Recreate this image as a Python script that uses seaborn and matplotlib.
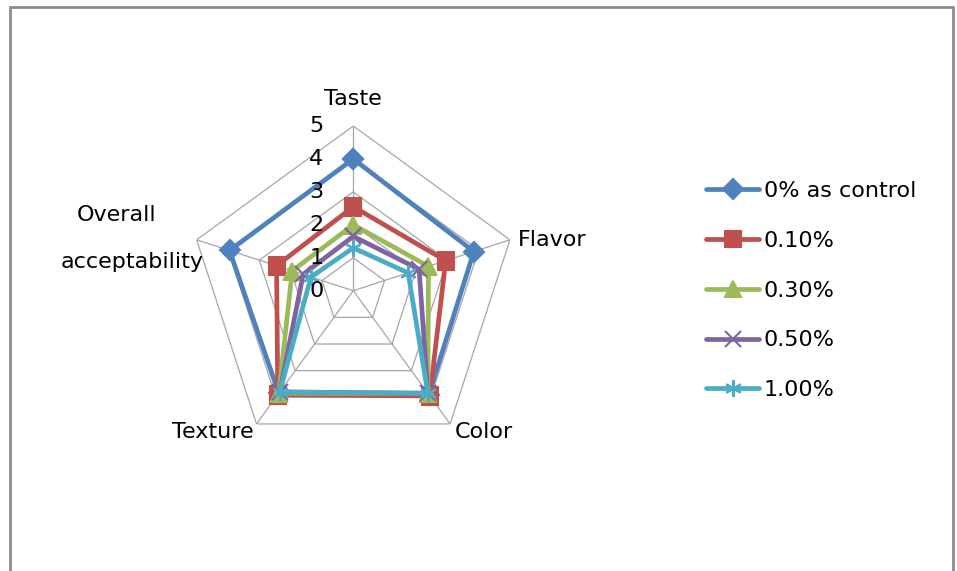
import numpy as np
import pandas as pd
import matplotlib
matplotlib.use("Agg")
import matplotlib.pyplot as plt
import seaborn as sns
from matplotlib.lines import Line2D

categories = ["Taste", "Flavor", "Color", "Texture", "Overall\nacceptability"]
series_names = ["0% as control", "0.10%", "0.30%", "0.50%", "1.00%"]
control = [4.0, 3.85, 3.9, 3.85, 3.95]
c010 = [2.55, 2.95, 3.95, 3.9, 2.45]
c030 = [2.0, 2.4, 3.85, 3.85, 1.95]
c050 = [1.65, 2.1, 3.85, 3.8, 1.6]
c100 = [1.3, 1.75, 3.85, 3.8, 1.35]
radial_ticks = [0, 1, 2, 3, 4, 5]

colors = ["#4F81BD", "#C0504D", "#9BBB59", "#8064A2", "#4BACC6"]
markers = ["D", "s", "^", "x", (6, 2, 0)]
msizes = [10, 12, 11, 11, 12]

sns.set_style("white")
plt.rcParams["font.family"] = ["DejaVu Sans"]
plt.rcParams["text.color"] = "black"
FS = 16

W, H = 957, 571
fig = plt.figure(figsize=(W / 100, H / 100), dpi=100)
cx, cy, R = 353.3, 290.7, 164.7
ax = fig.add_axes([(cx - R) / W, (H - cy - R) / H, 2 * R / W, 2 * R / H], projection="polar")
ax.set_theta_offset(np.pi / 2)
ax.set_theta_direction(-1)
ax.set_ylim(0, 5)
ax.grid(False)
ax.spines["polar"].set_visible(False)
ax.set_xticks([])
ax.set_yticks([])
ax.patch.set_alpha(0)

n = len(categories)
theta = np.linspace(0, 2 * np.pi, n, endpoint=False)
theta_closed = np.append(theta, 2 * np.pi)

# pentagon grid
for lvl in radial_ticks[1:]:
    ax.plot(theta_closed, [lvl] * (n + 1), color="#a6a6a6", lw=0.9, zorder=1)
for t in theta:
    ax.plot([t, t], [0, 5], color="#a6a6a6", lw=0.9, zorder=1)

all_vals = [control, c010, c030, c050, c100]
for name, vals, col, mk, ms in zip(series_names, all_vals, colors, markers, msizes):
    df = pd.DataFrame({"theta": theta_closed, "value": list(vals) + [vals[0]]})
    sns.lineplot(data=df, x="theta", y="value", ax=ax, sort=False, color=col,
                 marker=mk, markersize=ms, markeredgecolor=col, markeredgewidth=1.5,
                 linewidth=3.4, legend=False, zorder=3)
ax.set_xlabel("")
ax.set_ylabel("")
ax.set_ylim(0, 5)

# radial tick labels
for v in radial_ticks:
    ax.annotate(str(v), xy=(0, v), xytext=(-37, 0), textcoords="offset pixels",
                ha="center", va="center", fontsize=FS, color="black")

def ftext(x, y, s, **kw):
    fig.text(x / W, 1 - y / H, s, fontsize=FS, color="black", **kw)

ftext(353, 99, categories[0], ha="center", va="center")
ftext(518, 240, categories[1], ha="left", va="center")
ftext(455, 432, categories[2], ha="left", va="center")
ftext(254, 432, categories[3], ha="right", va="center")
ov1, ov2 = categories[4].split("\n")
ftext(117, 215, ov1, ha="center", va="center")
ftext(132, 262, ov2, ha="center", va="center")

handles = [Line2D([], [], color=c, marker=m, markersize=s, markeredgecolor=c,
                  markeredgewidth=1.5, linewidth=3.4)
           for c, m, s in zip(colors, markers, msizes)]
fig.legend(handles, series_names, loc="upper left", bbox_to_anchor=(706 / W, 1 - 181 / H),
           frameon=False, fontsize=FS, handlelength=2.4, handletextpad=0.2,
           labelspacing=1.34, borderpad=0, borderaxespad=0, labelcolor="black")

# chart border
bc = "#8c8c8c"
fig.add_artist(Line2D([10 / W, 10 / W], [0, 1 - 7 / H], color=bc, lw=2))
fig.add_artist(Line2D([10 / W, 953 / W], [1 - 7 / H, 1 - 7 / H], color=bc, lw=2))
fig.add_artist(Line2D([953 / W, 953 / W], [0, 1 - 7 / H], color=bc, lw=2))

fig.savefig("out.png", dpi=100, facecolor="white")
